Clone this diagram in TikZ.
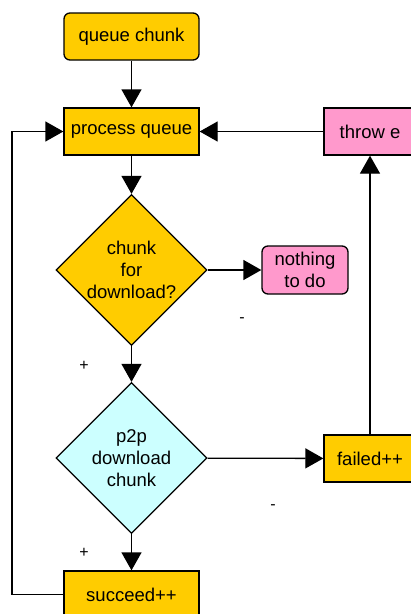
\documentclass[tikz,border=0pt]{standalone}
\usepackage{fontspec}
\setmainfont{Liberation Sans}
\usepackage{tikz}
\usetikzlibrary{shapes.geometric,arrows.meta,positioning}
\usepackage{xcolor}

\definecolor{boxyellow}{HTML}{FFCC00}
\definecolor{boxpink}{HTML}{FF99CC}
\definecolor{boxcyan}{HTML}{CCFFFF}

\begin{document}
\begin{tikzpicture}[
    x=1pt, y=-1pt,
    every node/.style={font=\fontsize{18.5}{22.2}\selectfont, align=center},
    box/.style={draw, line width=1.3pt, rectangle, minimum width=135pt, minimum height=47pt, inner sep=0pt},
    roundbox/.style={box, rounded corners=6pt},
    sidebox/.style={box, minimum width=92pt},
    decision/.style={draw, line width=1.3pt, diamond, aspect=1, minimum size=151pt, inner sep=0pt},
    sign/.style={font=\fontsize{16}{18}\selectfont, inner sep=0pt},
    flow/.style={line width=1.3pt, -{Triangle[length=18pt, width=20pt]}}
]
\useasboundingbox (0,0) rectangle (411,614);

\node[roundbox, fill=boxyellow] (queue) at (131.5,36.5) {queue chunk};
\node[box, fill=boxyellow] (process) at (131.5,131.5) {process queue};
\node[sidebox, fill=boxpink] (throw) at (370,131.5) {throw e};
\node[decision, fill=boxyellow] (forload) at (131.5,270) {chunk\\for\\download?};
\node[roundbox, fill=boxpink, minimum width=86pt, minimum height=48pt] (nothing) at (305,270) {nothing\\to do};
\node[decision, fill=boxcyan] (p2p) at (131.5,458) {p2p\\download\\chunk};
\node[sidebox, fill=boxyellow] (failed) at (370,458.5) {failed++};
\node[box, fill=boxyellow] (succeed) at (131.5,594.5) {succeed++};

\node[sign] (minusA) at (242,320) {-};
\node[sign] (plusA) at (84,366) {+};
\node[sign] (minusB) at (273,507) {-};
\node[sign] (plusB) at (84,553) {+};

\coordinate (back) at (12,0);

\draw[flow] (queue) -- (process);
\draw[flow] (process) -- (forload);
\draw[flow] (forload) -- (nothing);
\draw[flow] (forload) -- (p2p);
\draw[flow] (p2p) -- (failed);
\draw[flow] (p2p) -- (succeed);
\draw[flow] (failed) -- (throw);
\draw[flow] (throw) -- (process);
\draw[flow] (succeed.west) -- (succeed.west -| back) |- (process.west);
\end{tikzpicture}
\end{document}
